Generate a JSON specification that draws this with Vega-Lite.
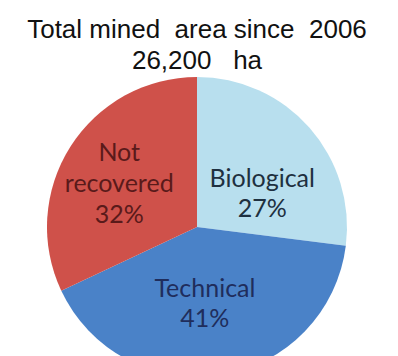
{
  "$schema": "https://vega.github.io/schema/vega-lite/v6.json",
  "autosize": "none",
  "width": 300,
  "height": 300,
  "padding": {"left": 47, "top": 77, "right": 51, "bottom": 0},
  "background": "white",
  "title": {
    "text": ["Total mined\u00a0 area since\u00a0 2006", "26,200\u00a0\u00a0 ha"],
    "font": "Liberation Sans",
    "fontSize": 26,
    "fontWeight": "normal",
    "color": "#111111",
    "anchor": "middle",
    "frame": "group",
    "lineHeight": 31,
    "offset": 3
  },
  "data": {
    "values": [
      {"category": "Biological", "share": 27, "label": ["Biological", "27%"]},
      {"category": "Technical", "share": 41, "label": ["Technical", "41%"]},
      {"category": "Not recovered", "share": 32, "label": ["Not", "recovered", "32%"]}
    ]
  },
  "transform": [
    {"calculate": "indexof(['Biological','Technical','Not recovered'], datum.category)", "as": "o"},
    {"stack": "share", "groupby": [], "sort": [{"field": "o", "order": "ascending"}], "as": ["s0", "s1"]},
    {"calculate": "(datum.s0 + datum.s1) / 2", "as": "mid"}
  ],
  "encoding": {
    "color": {
      "field": "category",
      "type": "nominal",
      "legend": null,
      "scale": {
        "domain": ["Biological", "Technical", "Not recovered"],
        "range": ["#b8dfee", "#4a82c8", "#cf514a"]
      }
    }
  },
  "layer": [
    {
      "mark": {"type": "arc", "outerRadius": 150},
      "encoding": {
        "theta": {"field": "s0", "type": "quantitative", "scale": {"domain": [0, 100]}},
        "theta2": {"field": "s1"}
      }
    },
    {
      "transform": [{"filter": "datum.category == 'Biological'"}],
      "mark": {"type": "text", "radius": 75, "font": "Lato", "fontSize": 25, "lineHeight": 30, "dx": 9, "dy": 2},
      "encoding": {
        "theta": {"field": "mid", "type": "quantitative", "stack": null},
        "text": {"field": "label"},
        "color": {"value": "#1e3040"}
      }
    },
    {
      "transform": [{"filter": "datum.category == 'Technical'"}],
      "mark": {"type": "text", "radius": 76, "font": "Lato", "fontSize": 25, "lineHeight": 30, "dx": -4, "dy": -13},
      "encoding": {
        "theta": {"field": "mid", "type": "quantitative", "stack": null},
        "text": {"field": "label"},
        "color": {"value": "#1f2d5c"}
      }
    },
    {
      "transform": [{"filter": "datum.category == 'Not recovered'"}],
      "mark": {"type": "text", "radius": 85, "font": "Lato", "fontSize": 25, "lineHeight": 31, "dx": -6, "dy": -28},
      "encoding": {
        "theta": {"field": "mid", "type": "quantitative", "stack": null},
        "text": {"field": "label"},
        "color": {"value": "#5a1a1a"}
      }
    }
  ]
}
